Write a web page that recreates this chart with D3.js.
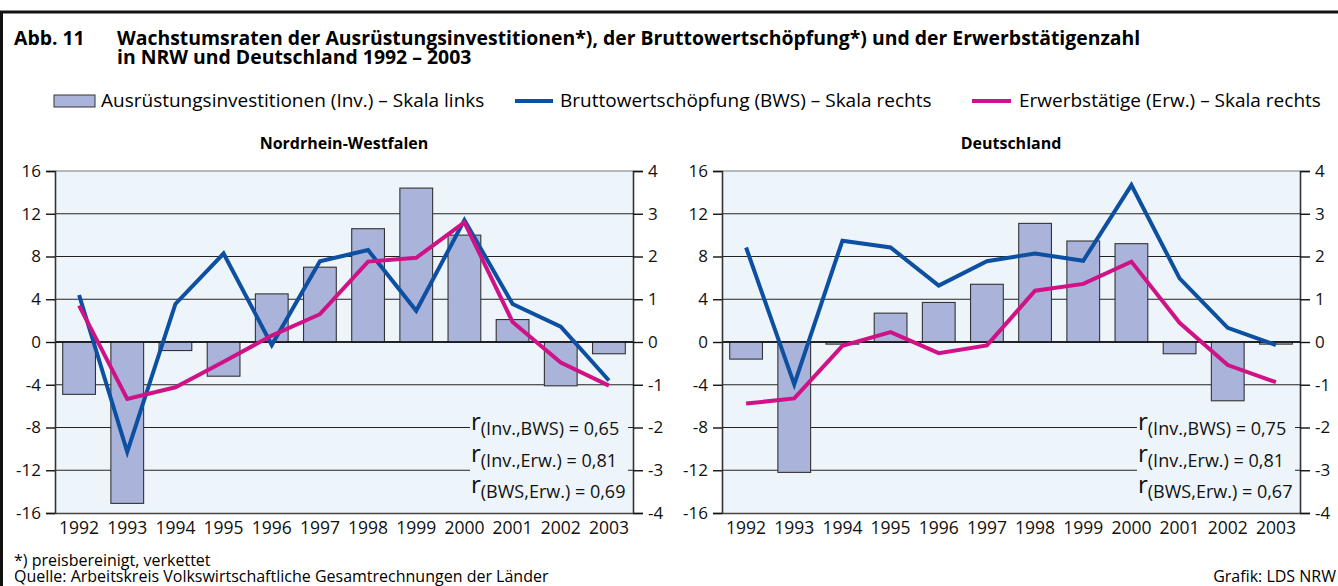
<!DOCTYPE html>
<html><head><meta charset="utf-8">
<script src="https://cdn.jsdelivr.net/npm/d3@7"></script>
<style>
html,body{margin:0;padding:0;background:#fff;overflow:hidden;}
svg{display:block;font-family:"Open Sans",sans-serif;}
</style></head>
<body><svg id="c" width="1338" height="586"></svg>
<script>
const years = ["1992","1993","1994","1995","1996","1997","1998","1999","2000","2001","2002","2003"];
const nrwInv = [-4.9,-15.1,-0.8,-3.2,4.5,7.0,10.6,14.4,10.0,2.1,-4.1,-1.1];
const nrwBws = [1.10,-2.57,0.89,2.07,-0.07,1.89,2.15,0.73,2.85,0.89,0.36,-0.90];
const nrwErw = [0.85,-1.33,-1.06,-0.46,0.15,0.65,1.88,1.97,2.80,0.47,-0.48,-1.02];
const deInv = [-1.6,-12.2,-0.2,2.7,3.7,5.4,11.1,9.45,9.2,-1.1,-5.5,-0.2];
const deBws = [2.21,-0.99,2.37,2.21,1.32,1.89,2.07,1.90,3.67,1.49,0.33,-0.07];
const deErw = [-1.44,-1.32,-0.09,0.23,-0.26,-0.08,1.20,1.36,1.88,0.45,-0.54,-0.94];
const leftTicks = [-16,-12,-8,-4,0,4,8,12,16];
const rightTicks = [-4,-3,-2,-1,0,1,2,3,4];
const nrwCorr = ["(Inv.,BWS) = 0,65","(Inv.,Erw.) = 0,81","(BWS,Erw.) = 0,69"];
const deCorr = ["(Inv.,BWS) = 0,75","(Inv.,Erw.) = 0,81","(BWS,Erw.) = 0,67"];

const BG = "#edf5fa", BAR = "#aab4db", BWS = "#0d4fa0", ERW = "#cf1387";
const svg = d3.select("#c");

// frame
svg.append("rect").attr("x",1.5).attr("y",12).attr("width",1345).attr("height",600)
  .attr("fill","none").attr("stroke","#111").attr("stroke-width",3);

// title
const TF = 19.4;
svg.append("text").attr("x",14).attr("y",45).attr("font-size",TF).attr("font-weight","bold").text("Abb. 11");
svg.append("text").attr("x",117).attr("y",45).attr("font-size",TF).attr("font-weight","bold")
  .text("Wachstumsraten der Ausrüstungsinvestitionen*), der Bruttowertschöpfung*) und der Erwerbstätigenzahl");
svg.append("text").attr("x",117).attr("y",64).attr("font-size",TF).attr("font-weight","bold")
  .text("in NRW und Deutschland 1992 – 2003");

// legend
const lg = svg.append("g").attr("font-size",19);
lg.append("rect").attr("x",54).attr("y",95).attr("width",41).attr("height",12).attr("fill",BAR).attr("stroke","#333");
lg.append("text").attr("x",101).attr("y",107).text("Ausrüstungsinvestitionen (Inv.) – Skala links");
lg.append("line").attr("x1",515).attr("x2",553).attr("y1",101).attr("y2",101).attr("stroke",BWS).attr("stroke-width",4);
lg.append("text").attr("x",560).attr("y",107).text("Bruttowertschöpfung (BWS) – Skala rechts");
lg.append("line").attr("x1",972).attr("x2",1011).attr("y1",101).attr("y2",101).attr("stroke",ERW).attr("stroke-width",4);
lg.append("text").attr("x",1019).attr("y",107).text("Erwerbstätige (Erw.) – Skala rechts");

// footer
svg.append("text").attr("x",14).attr("y",566).attr("font-size",16).text("*) preisbereinigt, verkettet");
svg.append("text").attr("x",14).attr("y",582).attr("font-size",16).text("Quelle: Arbeitskreis Volkswirtschaftliche Gesamtrechnungen der Länder");
svg.append("text").attr("x",1336).attr("y",582).attr("font-size",16).attr("text-anchor","end").text("Grafik: LDS NRW");

function panel(x0, x1, title, inv, bws, erw, corr) {
  const y0 = 171, y1 = 513;
  const g = svg.append("g");
  const x = d3.scaleBand().domain(years).range([x0, x1]).paddingInner(0.32).paddingOuter(0.16);
  const yl = d3.scaleLinear().domain([-16,16]).range([y1,y0]);
  const yr = d3.scaleLinear().domain([-4,4]).range([y1,y0]);

  g.append("text").attr("x",(x0+x1)/2).attr("y",149).attr("text-anchor","middle")
    .attr("font-size",16).attr("font-weight","bold").text(title);

  g.append("rect").attr("x",x0).attr("y",y0).attr("width",x1-x0).attr("height",y1-y0).attr("fill",BG);

  g.selectAll(".grid").data(leftTicks.filter(d=>d>-16)).join("line")
    .attr("x1",x0).attr("x2",x1).attr("y1",d=>yl(d)).attr("y2",d=>yl(d))
    .attr("stroke",d=>d===16?"#777":"#222").attr("stroke-width",d=>d===0?1.6:1.1);

  const bx = x1-163, bw = 158;
  g.append("rect").attr("x",bx).attr("y",410).attr("width",bw).attr("height",93).attr("fill",BG);

  g.selectAll(".bar").data(inv).join("rect")
    .attr("x",(d,i)=>x(years[i])).attr("width",x.bandwidth())
    .attr("y",d=>yl(Math.max(0,d))).attr("height",d=>Math.abs(yl(d)-yl(0)))
    .attr("fill",BAR).attr("stroke","#333").attr("stroke-width",1.1);
  g.append("line").attr("x1",x0).attr("x2",x1).attr("y1",yl(0)).attr("y2",yl(0)).attr("stroke","#111").attr("stroke-width",1.6);

  const line = d3.line().x((d,i)=>x(years[i])+x.bandwidth()/2).y(d=>yr(d));
  g.append("path").datum(bws).attr("d",line).attr("fill","none").attr("stroke",BWS).attr("stroke-width",4).attr("stroke-linejoin","miter");
  g.append("path").datum(erw).attr("d",line).attr("fill","none").attr("stroke",ERW).attr("stroke-width",4).attr("stroke-linejoin","miter");

  const fmt = d=>String(d).replace("−","-");
  const la = g.append("g").attr("transform",`translate(${x0},0)`)
    .call(d3.axisLeft(yl).tickValues(leftTicks).tickSize(9).tickPadding(5).tickFormat(fmt));
  const ra = g.append("g").attr("transform",`translate(${x1},0)`)
    .call(d3.axisRight(yr).tickValues(rightTicks).tickSize(10).tickPadding(5).tickFormat(fmt));
  [la,ra].forEach(a=>{
    a.select(".domain").attr("stroke","#333").attr("stroke-width",1.6);
    a.selectAll(".tick line").attr("stroke","#111").attr("stroke-width",1.4);
    a.selectAll(".tick text").attr("font-size",17).attr("fill","#111").attr("font-family","Open Sans");
  });
  const xa = g.append("g").attr("transform",`translate(0,${y1})`)
    .call(d3.axisBottom(x).tickSize(0).tickPadding(9));
  xa.select(".domain").attr("stroke","#444").attr("stroke-width",1.6);
  xa.selectAll(".tick text").attr("font-size",17.5).attr("fill","#111").attr("font-family","Open Sans");

  corr.forEach((c,i)=>{
    const t = g.append("text").attr("x",bx+1).attr("y",430+i*31.5).attr("fill","#111");
    t.append("tspan").attr("font-size",24).text("r");
    t.append("tspan").attr("font-size",18).attr("dy",5).text(c);
  });
}
panel(55,633,"Nordrhein-Westfalen",nrwInv,nrwBws,nrwErw,nrwCorr);
panel(722,1300,"Deutschland",deInv,deBws,deErw,deCorr);
</script></body></html>
